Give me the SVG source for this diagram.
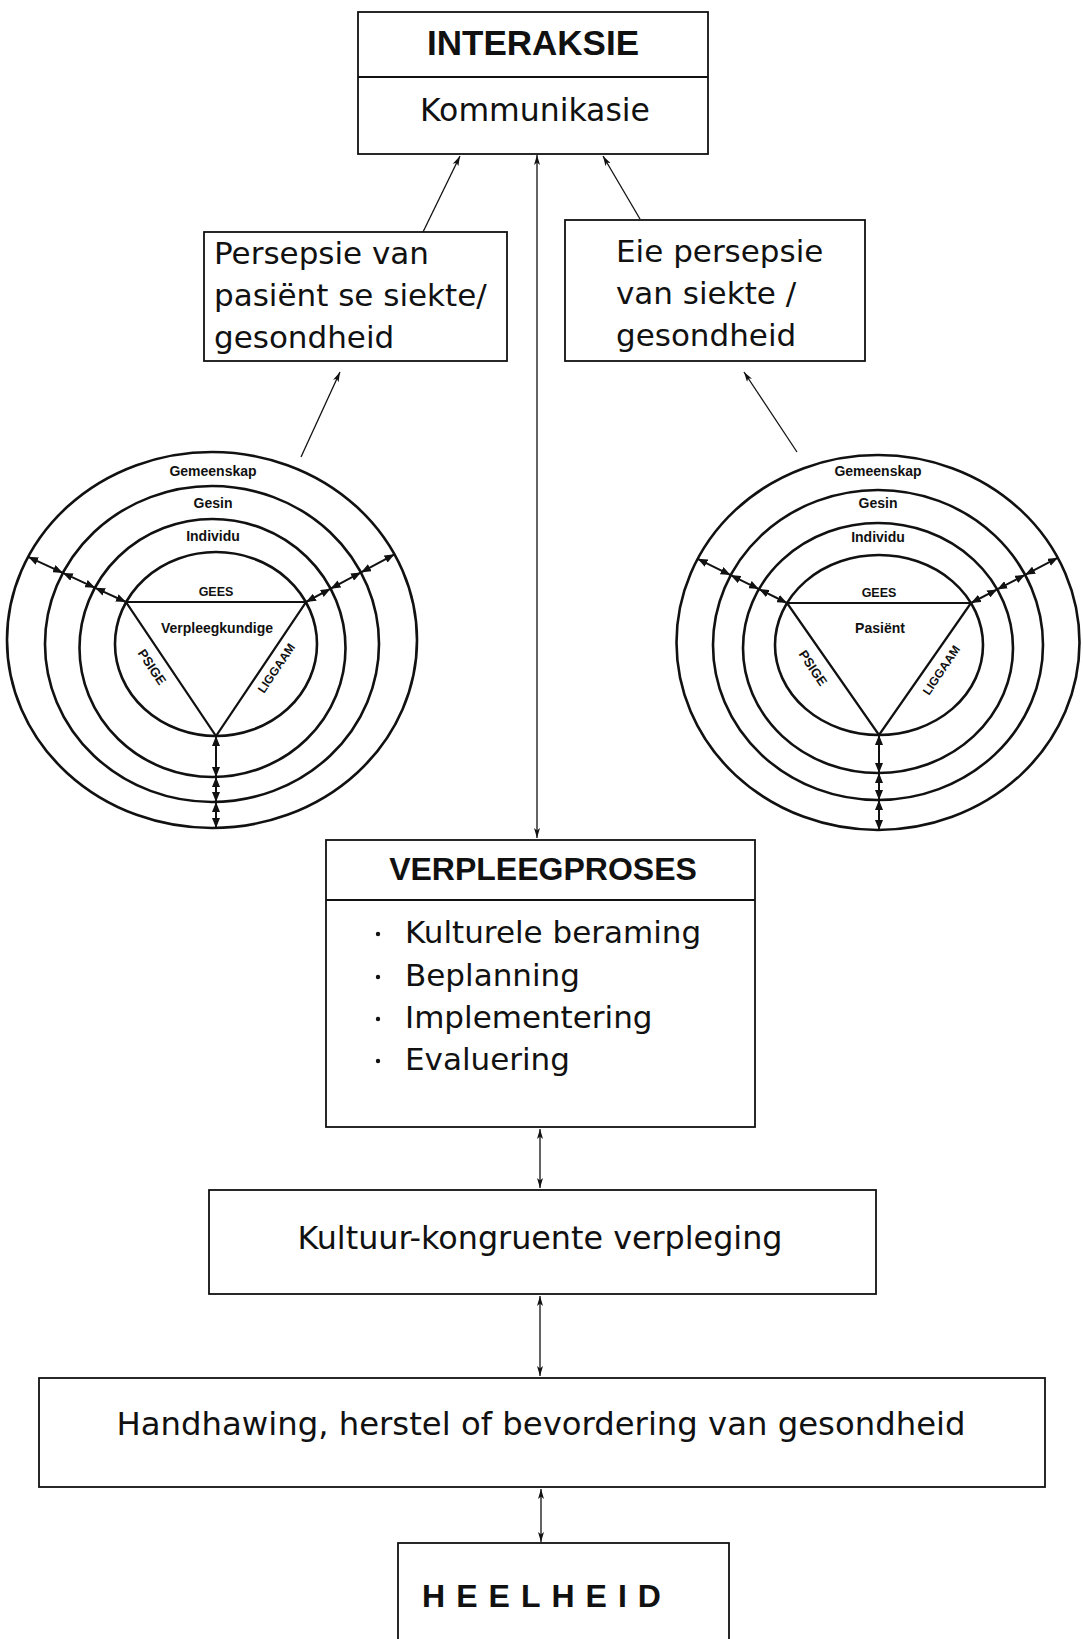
<svg xmlns="http://www.w3.org/2000/svg" width="1083" height="1639" viewBox="0 0 1083 1639">
<style>
.box{fill:#fff;stroke:#111;stroke-width:1.8}
.ring{fill:none;stroke:#111;stroke-width:2.6}
.tri{fill:none;stroke:#111;stroke-width:2.2}
.con{fill:none;stroke:#111;stroke-width:1.3}
.rad{fill:none;stroke:#111;stroke-width:2}
.body{font-family:"DejaVu Sans","Liberation Sans",sans-serif;font-size:31px;fill:#111}
.title{font-family:"Liberation Sans",Arial,sans-serif;font-weight:bold;fill:#111}
.sm{font-family:"Liberation Sans",Arial,sans-serif;font-weight:bold;font-size:14px;fill:#111;text-anchor:middle}
</style>
<defs>
<marker id="ah" viewBox="0 0 10 6" refX="10" refY="3" markerWidth="10" markerHeight="6" markerUnits="userSpaceOnUse" orient="auto-start-reverse">
<path d="M0,0 L10,3 L0,6 L2.5,3 Z" fill="#111"/>
</marker>
<marker id="rh" viewBox="0 0 10 8" refX="10" refY="4" markerWidth="10" markerHeight="8" markerUnits="userSpaceOnUse" orient="auto-start-reverse">
<path d="M0,0 L10,4 L0,8 Z" fill="#111"/>
</marker>
</defs>
<rect width="1083" height="1639" fill="#fff"/>

<g id="connectors">
<line class="con" x1="537" y1="838" x2="537" y2="155" marker-start="url(#ah)" marker-end="url(#ah)"/>
<line class="con" x1="423" y1="232" x2="460" y2="156" marker-end="url(#ah)"/>
<line class="con" x1="640" y1="219" x2="603" y2="156" marker-end="url(#ah)"/>
<line class="con" x1="301" y1="457" x2="340" y2="372" marker-end="url(#ah)"/>
<line class="con" x1="797" y1="452" x2="744" y2="372" marker-end="url(#ah)"/>
<line class="con" x1="540" y1="1129" x2="540" y2="1188" marker-start="url(#ah)" marker-end="url(#ah)"/>
<line class="con" x1="540" y1="1296" x2="540" y2="1376" marker-start="url(#ah)" marker-end="url(#ah)"/>
<line class="con" x1="541" y1="1489" x2="541" y2="1542" marker-start="url(#ah)" marker-end="url(#ah)"/>
</g>

<g id="interaksie">
<rect class="box" x="358" y="12" width="350" height="142"/>
<line class="box" x1="358" y1="77" x2="708" y2="77"/>
<text class="title" x="533" y="55" font-size="35" text-anchor="middle">INTERAKSIE</text>
<text class="body" x="535" y="121" text-anchor="middle" style="font-size:31.5px">Kommunikasie</text>
</g>

<g id="persepsie-pasient">
<rect class="box" x="204" y="232" width="303" height="129"/>
<text class="body" x="214" y="264">Persepsie van</text>
<text class="body" x="214" y="306">pasiënt se siekte/</text>
<text class="body" x="214" y="348">gesondheid</text>
</g>

<g id="eie-persepsie">
<rect class="box" x="565" y="220" width="300" height="141"/>
<text class="body" x="616" y="262">Eie persepsie</text>
<text class="body" x="616" y="304">van siekte /</text>
<text class="body" x="616" y="346">gesondheid</text>
</g>

<g id="verpleegkundige-model">
<ellipse class="ring" cx="212" cy="640" rx="205" ry="188"/>
<ellipse class="ring" cx="212" cy="644" rx="167" ry="158"/>
<ellipse class="ring" cx="212.5" cy="648" rx="133" ry="129"/>
<ellipse class="ring" cx="216" cy="644" rx="101" ry="92"/>
<polygon class="tri" points="126,602 306,602 216,736"/>
<line class="rad" x1="126" y1="602" x2="95.1" y2="587.8" marker-start="url(#rh)" marker-end="url(#rh)"/>
<line class="rad" x1="95.1" y1="587.8" x2="62.9" y2="572.9" marker-start="url(#rh)" marker-end="url(#rh)"/>
<line class="rad" x1="62.9" y1="572.9" x2="28.2" y2="556.8" marker-start="url(#rh)" marker-end="url(#rh)"/>
<line class="rad" x1="306" y1="602" x2="330.6" y2="588.7" marker-start="url(#rh)" marker-end="url(#rh)"/>
<line class="rad" x1="330.6" y1="588.7" x2="361" y2="572.4" marker-start="url(#rh)" marker-end="url(#rh)"/>
<line class="rad" x1="361" y1="572.4" x2="394.5" y2="554.3" marker-start="url(#rh)" marker-end="url(#rh)"/>
<line class="rad" x1="216" y1="736" x2="216" y2="777" marker-start="url(#rh)" marker-end="url(#rh)"/>
<line class="rad" x1="216" y1="777" x2="216" y2="802" marker-start="url(#rh)" marker-end="url(#rh)"/>
<line class="rad" x1="216" y1="802" x2="216" y2="828" marker-start="url(#rh)" marker-end="url(#rh)"/>
<text class="sm" x="213" y="476">Gemeenskap</text>
<text class="sm" x="213" y="508">Gesin</text>
<text class="sm" x="213" y="541">Individu</text>
<text class="sm" x="216" y="596" style="font-size:12.5px">GEES</text>
<text class="sm" x="217" y="633">Verpleegkundige</text>
<text class="sm" style="font-size:13px" transform="translate(152,667) rotate(56)" x="0" y="4.5">PSIGE</text>
<text class="sm" style="font-size:12px" transform="translate(276,668) rotate(-56)" x="0" y="4.5">LIGGAAM</text>
</g>

<g id="pasient-model">
<ellipse class="ring" cx="878" cy="642.5" rx="201.5" ry="187.5"/>
<ellipse class="ring" cx="878" cy="645" rx="165" ry="155"/>
<ellipse class="ring" cx="878" cy="648" rx="135" ry="125"/>
<ellipse class="ring" cx="879" cy="645" rx="104" ry="90"/>
<polygon class="tri" points="787,603 971,603 879,735"/>
<line class="rad" x1="787" y1="603" x2="758.9" y2="589.1" marker-start="url(#rh)" marker-end="url(#rh)"/>
<line class="rad" x1="758.9" y1="589.1" x2="730.6" y2="575.1" marker-start="url(#rh)" marker-end="url(#rh)"/>
<line class="rad" x1="730.6" y1="575.1" x2="697.6" y2="558.8" marker-start="url(#rh)" marker-end="url(#rh)"/>
<line class="rad" x1="971" y1="603" x2="997.2" y2="589.4" marker-start="url(#rh)" marker-end="url(#rh)"/>
<line class="rad" x1="997.2" y1="589.4" x2="1025.1" y2="574.8" marker-start="url(#rh)" marker-end="url(#rh)"/>
<line class="rad" x1="1025.1" y1="574.8" x2="1057.9" y2="557.7" marker-start="url(#rh)" marker-end="url(#rh)"/>
<line class="rad" x1="879" y1="735" x2="879" y2="773" marker-start="url(#rh)" marker-end="url(#rh)"/>
<line class="rad" x1="879" y1="773" x2="879" y2="800" marker-start="url(#rh)" marker-end="url(#rh)"/>
<line class="rad" x1="879" y1="800" x2="879" y2="830" marker-start="url(#rh)" marker-end="url(#rh)"/>
<text class="sm" x="878" y="476">Gemeenskap</text>
<text class="sm" x="878" y="508">Gesin</text>
<text class="sm" x="878" y="542">Individu</text>
<text class="sm" x="879" y="597" style="font-size:12.5px">GEES</text>
<text class="sm" x="880" y="633">Pasiënt</text>
<text class="sm" style="font-size:13px" transform="translate(813,668) rotate(56)" x="0" y="4.5">PSIGE</text>
<text class="sm" style="font-size:12px" transform="translate(941,670) rotate(-56)" x="0" y="4.5">LIGGAAM</text>
</g>

<g id="verpleegproses">
<rect class="box" x="326" y="840" width="429" height="287"/>
<line class="box" x1="326" y1="900" x2="755" y2="900"/>
<text class="title" x="543" y="880" font-size="32" text-anchor="middle">VERPLEEGPROSES</text>
<circle cx="378" cy="934" r="2.2" fill="#111"/>
<circle cx="378" cy="977" r="2.2" fill="#111"/>
<circle cx="378" cy="1019" r="2.2" fill="#111"/>
<circle cx="378" cy="1061" r="2.2" fill="#111"/>
<text class="body" x="405" y="943">Kulturele beraming</text>
<text class="body" x="405" y="986">Beplanning</text>
<text class="body" x="405" y="1028">Implementering</text>
<text class="body" x="405" y="1070">Evaluering</text>
</g>

<g id="kultuur-kongruent">
<rect class="box" x="209" y="1190" width="667" height="104"/>
<text class="body" x="540" y="1249" text-anchor="middle" style="font-size:31.8px">Kultuur-kongruente verpleging</text>
</g>

<g id="handhawing">
<rect class="box" x="39" y="1378" width="1006" height="109"/>
<text class="body" x="541" y="1435" text-anchor="middle" style="font-size:32.3px">Handhawing, herstel of bevordering van gesondheid</text>
</g>

<g id="heelheid">
<rect class="box" x="398" y="1543" width="331" height="120"/>
<text class="title" x="547" y="1607" font-size="32" letter-spacing="11" text-anchor="middle">HEELHEID</text>
</g>
</svg>
